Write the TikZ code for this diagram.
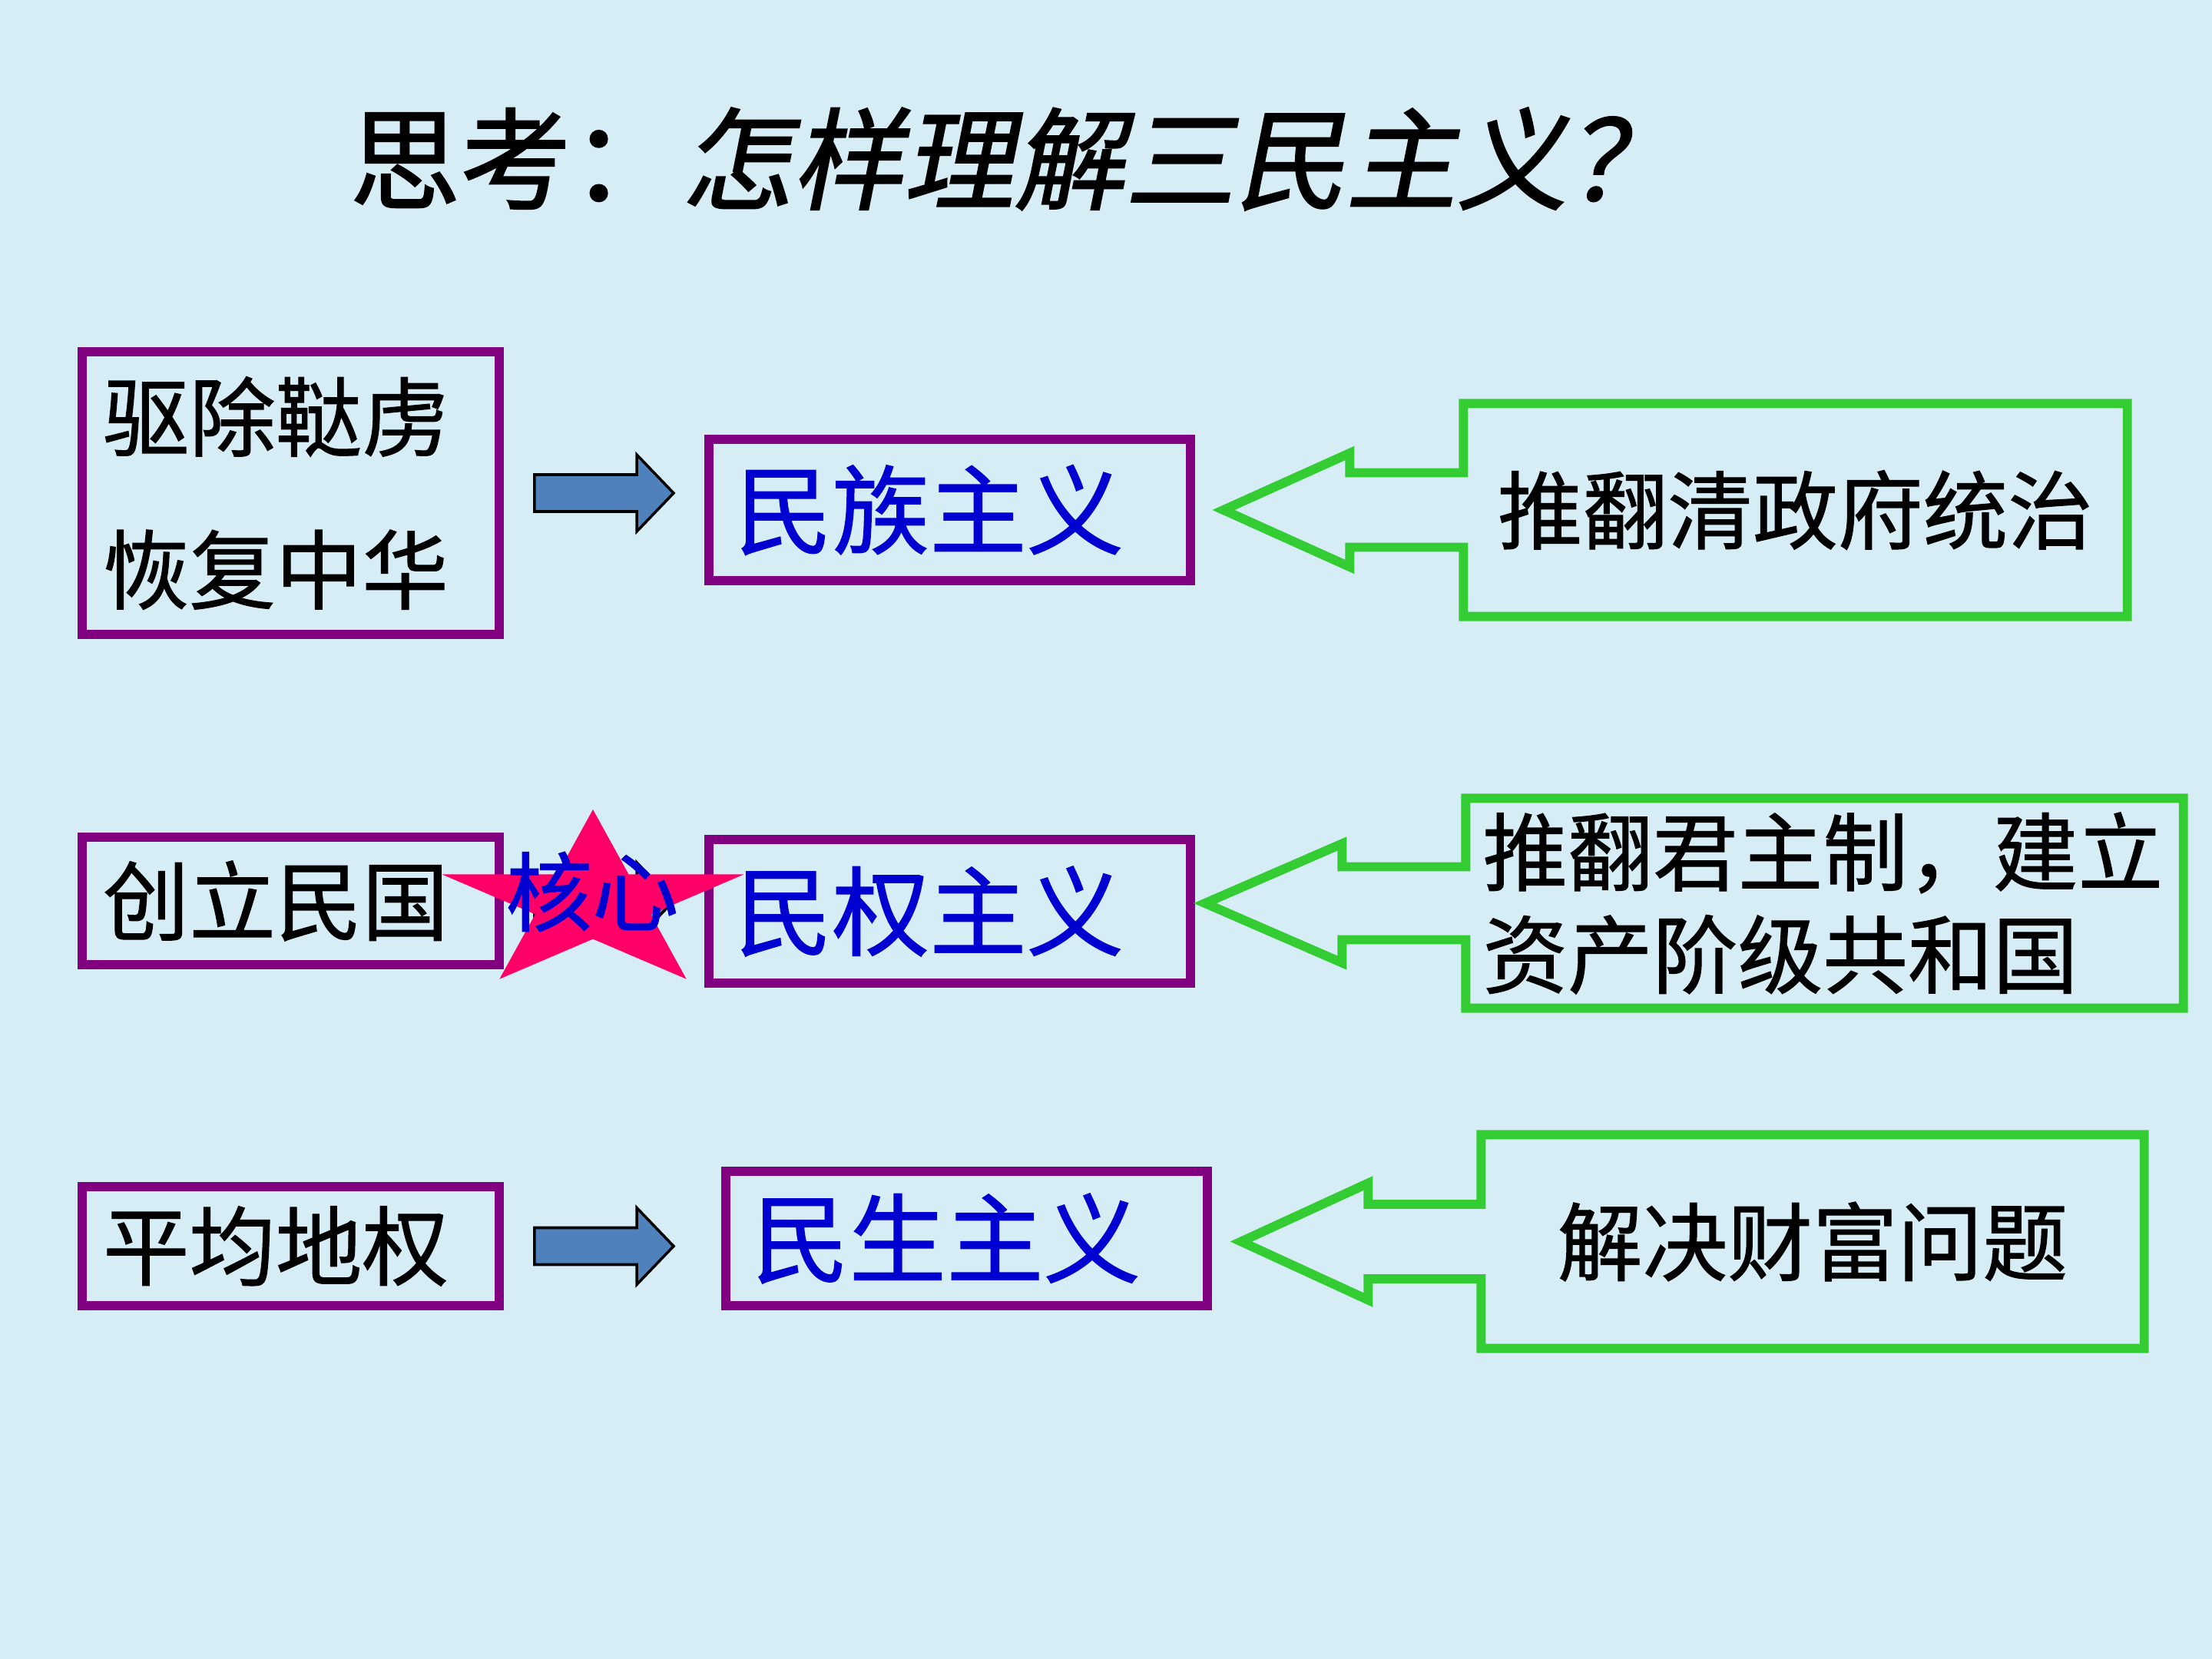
\documentclass[tikz,border=0pt]{standalone}
\usepackage{fontspec}
\usetikzlibrary{calc}
\newfontfamily\cjk[FakeBold=1]{Noto Sans CJK SC}
\newfontfamily\cjktitle[FakeBold=1.5]{Noto Sans CJK SC}
\newfontfamily\cjkslant[FakeSlant=0.2,FakeBold=1.5]{Noto Sans CJK SC}

\definecolor{bgblue}{HTML}{D6EDF6}
\definecolor{boxpurple}{HTML}{800080}
\definecolor{calloutgreen}{HTML}{33CC33}
\definecolor{inkblue}{HTML}{0000D0}
\definecolor{arrowblue}{HTML}{4F81BD}
\definecolor{starpink}{HTML}{FF0066}

% block arrow from one box towards the next: from node, to node, gap at the target
\newcommand{\blockarrow}[3]{%
  \coordinate (#1s) at ($(#1.east)+(0.4,0)$);
  \coordinate (#1e) at ($(#2.west |- #1s)+(-#3,0)$);
  \draw[bluearrow] ($(#1s)+(0,0.24)$) -- ($(#1e)+(-0.48,0.24)$) -- ($(#1e)+(-0.48,0.5)$)
    -- (#1e) -- ($(#1e)+(-0.48,-0.5)$) -- ($(#1e)+(-0.48,-0.24)$) -- ($(#1s)+(0,-0.24)$) -- cycle;}

% green callout round a text node: node, shaft half, shaft length, head half, tip
\newcommand{\greencallout}[5]{%
  \draw[callout] (#1.north west) -- (#1.north east) -- (#1.south east) -- (#1.south west)
    -- ($(#1.west)+(0,-#2)$) -- ($(#1.west)+(-#3,-#2)$) -- ($(#1.west)+(-#3,-#4)$)
    -- (#5) -- ($(#1.west)+(-#3,#4)$) -- ($(#1.west)+(-#3,#2)$) -- ($(#1.west)+(0,#2)$) -- cycle;}

\begin{document}
\begin{tikzpicture}[
        pbox/.style={draw=boxpurple, line width=3.4pt, align=left, inner ysep=0pt},
        lbox/.style={pbox, text width=4.89cm, inner xsep=0.27cm, font=\cjk\fontsize{32}{56.6}\selectfont},
        mbox/.style={pbox, text width=5.59cm, inner xsep=0.34cm, text=inkblue, font=\cjk\fontsize{36}{43}\selectfont},
        gtext/.style={inner xsep=0.215cm, inner ysep=0pt, font=\cjk\fontsize{31.5}{38}\selectfont},
        callout/.style={draw=calloutgreen, line width=3.4pt},
        bluearrow/.style={draw=black, line width=1pt, fill=arrowblue},
        core/.style={text=inkblue, font=\cjk\fontsize{32}{38}\selectfont},
    ]
    \useasboundingbox (0,0) rectangle (28.8,-21.6);
    \fill[bgblue] (0,0) rectangle (28.8,-21.6);

    % === Title ===
    \node[font=\fontsize{41}{48}\selectfont] (title) at (13.2,-2.07) {{\cjktitle 思考：}{\cjkslant 怎样理解三民主义？}};

    % === Left column ===
    \node[lbox, minimum height=3.68cm] (lb1) at (3.785,-6.42) {驱除鞑虏\\恢复中华};
    \node[lbox, minimum height=1.66cm] (lb2) at (3.785,-11.73) {创立民国};
    \node[lbox, minimum height=1.55cm] (lb3) at (3.785,-16.225) {平均地权};

    % === Middle column ===
    \node[mbox, minimum height=1.84cm] (mb1) at (12.365,-6.64) {民族主义};
    \node[mbox, minimum height=1.87cm] (mb2) at (12.365,-11.865) {民权主义};
    \node[mbox, minimum height=1.75cm] (mb3) at (12.585,-16.125) {民生主义};

    \blockarrow{lb1}{mb1}{0.4}
    \blockarrow{lb2}{mb2}{0.4}
    \blockarrow{lb3}{mb3}{0.62}

    % core star
    \fill[starpink, shift={(7.72,-11.76)}, xscale=2.07, yscale=1.22] (90:1)
        \foreach \a/\r in {126/0.382,162/1,198/0.382,234/1,270/0.382,306/1,342/0.382,18/1,54/0.382} { -- (\a:\r) } -- cycle;
    \node[core] (corelbl) at (7.71,-11.61) {核心};

    % === Right column ===
    \node[gtext, text width=8.2cm, align=center, minimum height=2.76cm] (g1) at (23.375,-6.64) {推翻清政府统治};
    \node[gtext, text width=8.9cm, align=left, minimum height=2.72cm] (g2) at (23.755,-11.76) {推翻君主制，建立\\资产阶级共和国};
    \node[gtext, text width=8.19cm, align=center, minimum height=2.77cm] (g3) at (23.6,-16.165) {解决财富问题};

    \greencallout{g1}{0.485}{1.48}{0.74}{$(mb1.east |- g1.west)+(0.37,0)$}
    \greencallout{g2}{0.475}{1.61}{0.775}{$(mb2.east |- g2.west)+(0.13,0)$}
    \greencallout{g3}{0.485}{1.47}{0.76}{$(mb3.east |- g3.west)+(0.38,0)$}

\end{tikzpicture}
\end{document}
